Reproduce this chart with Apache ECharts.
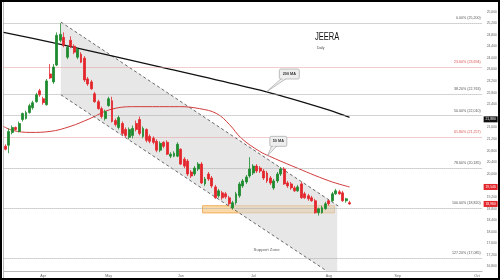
<!DOCTYPE html>
<html><head><meta charset="utf-8">
<script src="https://cdn.jsdelivr.net/npm/echarts@6/dist/echarts.min.js"></script>
<style>html,body{margin:0;padding:0;background:#fff}#c{width:500px;height:280px}</style>
</head><body><div id="c"></div>
<script>
// ---- data ----
const categoryCount = 139;               // trading-day slots on the x axis (incl. empty future)
const monthLabels = ['Apr','May','Jun','Jul','Aug','Sep','Oct'];
const monthIndex  = [11, 30, 51, 72, 94, 114, 137];
// [open, close, low, high]
const candles = [
[20950,20848,20814,21019],[20985,21463,20711,21566],[21429,21600,21361,21668],[21600,21532,21497,21634],
[21463,21737,21429,21805],[21873,22079,21805,22113],[21908,22113,21873,22181],[22113,22352,22079,22420],
[22284,22455,22215,22523],[22489,22728,22455,22797],[22865,22728,22660,22933],[22592,22455,22386,22660],
[22386,23207,22352,23275],[23447,23309,23275,23788],[23173,23686,23104,23788],[23754,24780,23720,24882],
[24609,24814,24540,25200],[24711,24437,24368,24882],[24027,24368,23959,24437],[24609,24403,24334,24745],
[24403,24198,24130,24472],[24027,24300,23959,24334],[24130,23855,23822,24198],[23993,23241,23173,24062],
[23275,23104,23036,23343],[23173,22933,22899,23241],[22762,22489,22455,22831],[22489,22250,22215,22557],
[22250,21976,21908,22318],[21908,22147,21839,22215],[22352,22592,22318,22660],[22523,21805,21771,22660],
[21839,21702,21634,21908],[21600,21942,21532,22010],[21737,21395,21326,21805],[21532,21326,21258,21600],
[21258,21532,21190,21600],[21326,21566,21224,21668],[21737,21532,21463,21839],[21873,21395,21326,21976],
[21292,21566,21224,21634],[21532,21156,21087,21566],[21292,21121,21053,21361],[21224,21087,21019,21292],
[21121,20814,20745,21190],[20814,21053,20745,21121],[21087,20950,20882,21121],[21087,20677,20643,21156],
[20609,20677,20540,20745],[20609,20711,20574,20780],[20609,21019,20574,21087],[20848,20335,20301,20882],
[20506,20267,20198,20574],[20438,19993,19925,20506],[20062,19925,19856,20130],[19993,20198,19925,20267],
[20164,20335,20096,20404],[20335,19685,19651,20404],[19651,19822,19583,19890],[19993,19822,19754,20062],
[19856,19583,19514,19925],[19548,19172,19138,19617],[19241,19412,19172,19480],[19343,19172,19104,19412],
[19309,19206,19138,19378],[19172,18967,18899,19241],[18830,19001,18762,19070],[19001,19309,18933,19378],
[19241,19651,19172,19719],[19583,19754,19514,19822],[19719,19890,19651,19959],[19925,20164,19856,20574],
[20027,20267,19959,20335],[20267,20096,20027,20335],[20198,20096,20027,20267],[20096,19856,19788,20164],
[20027,19754,19685,20096],[19856,19685,19617,19925],[19514,19754,19446,19822],[19754,19993,19685,20062],
[19993,20164,19925,20233],[20164,19651,19617,20233],[19685,19583,19514,19754],[19651,19514,19446,19719],
[19514,19412,19378,19583],[19412,19548,19378,19617],[19651,19172,19138,19719],[19309,19172,19138,19378],
[19241,19138,19070,19309],[19172,19070,19035,19241],[19070,18659,18625,19138],[18659,18796,18557,18830],
[18659,18830,18625,18899],[18796,18967,18762,19035],[19070,18967,18899,19104],[19070,19309,19035,19378],
[19309,19412,19275,19480],[19378,19309,19275,19446],[19343,19070,19035,19412],[19070,19138,19001,19172],
[19001,18960,18933,19070]
];
// moving averages: [slot position, price]
const ma50 = [[0,21634],[2.7,21497],[7.7,21429],[13.5,21463],[19.3,21634],[25.1,21908],[30.9,22215],[37.5,22318],
  [45.3,22318],[51.1,22318],[56.9,22250],[61.9,22079],[65.6,21702],[69.1,21224],[74.3,20780],[77.2,20609],
  [83.9,20267],[94.6,19754],[100.5,19546]];
const ma200 = [[0,24882],[16.6,24472],[48.2,23617],[76.4,22831],[94.6,22200],[100.5,21950]];
// Fibonacci retracement levels
const fibPrice = [25200, 23694, 22763, 22010, 21257, 20185, 18820, 17085];
const fibText  = ['0.00% (25,200)','23.60% (23,694)','38.20% (22,763)','50.00% (22,010)','61.80% (21,257)','78.60% (20,185)','100.00% (18,820)','127.20% (17,085)'];
const fibRed   = [false, true, false, false, true, false, false, false];
// channel
const channelUpper = [[16.64,25240],[97.5,18865]];
const channelLower = [[16.64,22728],[93.9,16643]];
const channelShade = [[16.64,25240],[96.9,18916],[96.9,16643],[93.9,16643],[16.64,22728]];
const supportZone  = [[57.8,18900],[96.1,18650]];
const supportLabelAt = [76.4,17378];
// price tags on the right axis
const tagPrice = [21880, 19546, 18960];
const tagColor = ['#111111', '#e3262b', '#e3262b'];
// callouts
const calloutText = ['200 MA', '50 MA'];
const calloutBox  = [[83.0,23446],[79.8,21121]];
const calloutTip  = [[76.4,22831],[76.6,20609]];
const yMin = 16400, yMax = 26000, yStep = 400;

// ---- chart ----
const categories = Array.from({length: categoryCount}, (_, i) => String(i));
const fmt = v => Number(v).toLocaleString('en-US');
const chart = echarts.init(document.getElementById('c'), null, {renderer: 'canvas'});
const font = 'Liberation Sans, Arial, sans-serif';

chart.setOption({
  animation: false,
  backgroundColor: '#ffffff',
  grid: {left: 3.575, right: 16.875, top: -2.7, bottom: 1.9},
  xAxis: [{
    type: 'category', data: categories, boundaryGap: true, offset: -7.1,
    axisLine: {lineStyle: {color: '#bbbbbb', width: 1}},
    axisTick: {show: false},
    axisLabel: {interval: (i) => monthIndex.includes(i), formatter: (v, i) => monthLabels[monthIndex.indexOf(Number(v))] || '',
      fontSize: 3.6, color: '#666', margin: 2.5, fontFamily: font},
    splitLine: {show: false}
  }, {
    type: 'value', min: 0, max: categoryCount, show: false
  }],
  yAxis: {
    type: 'value', position: 'right', min: yMin, max: yMax, interval: yStep, scale: true,
    axisLine: {show: true, lineStyle: {color: '#bbbbbb'}},
    axisTick: {show: false}, splitLine: {show: false},
    axisLabel: {fontSize: 3.4, color: '#666', margin: 4.5, fontFamily: font, showMinLabel: false, showMaxLabel: false,
      formatter: v => (v === 22000 || v === 19600) ? '' : fmt(v)}
  },
  graphic: [
    {type: 'text', x: 315, y: 37, scaleX: 0.72, silent: true, z: 50,
      style: {text: 'JEERA', fontSize: 10.5, fill: '#111', align: 'left', verticalAlign: 'middle', fontFamily: font}},
    {type: 'text', x: 317, y: 48.5, silent: true, z: 50,
      style: {text: 'Daily', fontSize: 3.4, fill: '#444', align: 'left', verticalAlign: 'middle', fontFamily: font}},
    {type: 'rect', z: 100, silent: true, shape: {x: 1, y: 1, width: 498, height: 278},
      style: {fill: null, stroke: '#000', lineWidth: 2}}
  ],
  series: [
    { // channel shading
      type: 'custom', xAxisIndex: 1, z: 1, silent: true, data: [channelShade[0]],
      renderItem: (params, api) => ({type: 'polygon', shape: {points: channelShade.map(p => api.coord(p))},
        style: {fill: 'rgba(215,215,215,0.6)'}})
    },
    { // support zone band
      type: 'line', xAxisIndex: 1, data: [], z: 2, silent: true,
      markArea: {silent: true, itemStyle: {color: 'rgba(250,205,140,0.75)', borderColor: '#f0a040', borderWidth: 0.8},
        data: [[{coord: supportZone[0]}, {coord: supportZone[1]}]]}
    },
    { // fib lines
      type: 'line', xAxisIndex: 1, data: [], z: 2, silent: true,
      markLine: {silent: true, symbol: 'none', animation: false,
        data: fibPrice.map((p, i) => ({yAxis: p,
          lineStyle: {type: 'dotted', width: 1, color: fibRed[i] ? '#e69a9a' : '#a8a8a8'},
          label: {show: true, position: 'insideEndTop', distance: [1.5, 3], formatter: fibText[i], fontSize: 3.6,
            color: fibRed[i] ? '#d9534f' : '#555', fontFamily: font}}))}
    },
    { type: 'line', xAxisIndex: 1, data: channelUpper, symbol: 'none', z: 3, silent: true,
      lineStyle: {type: [3, 2.5], width: 0.8, color: '#444'} },
    { type: 'line', xAxisIndex: 1, data: channelLower, symbol: 'none', z: 3, silent: true,
      lineStyle: {type: [3, 2.5], width: 0.8, color: '#444'} },
    { type: 'line', xAxisIndex: 1, data: ma50, symbol: 'none', smooth: 0.4, z: 4, silent: true,
      lineStyle: {width: 1, color: '#d23c3c'} },
    { type: 'line', xAxisIndex: 1, data: ma200, symbol: 'none', smooth: 0.15, z: 4, silent: true,
      lineStyle: {width: 1.3, color: '#111'} },
    { type: 'candlestick', xAxisIndex: 0, data: candles, barWidth: 2.4, z: 5,
      itemStyle: {color: '#1e8a2e', color0: '#e3262b', borderColor: '#1e8a2e', borderColor0: '#e3262b', borderWidth: 0.8} },
    { type: 'scatter', xAxisIndex: 1, data: [supportLabelAt], symbolSize: 0, z: 6, silent: true,
      label: {show: true, position: 'inside', formatter: 'Support Zone', fontSize: 4.3, color: '#333', fontFamily: font} },
    { // callouts
      type: 'custom', xAxisIndex: 1, z: 7, silent: true, data: calloutBox,
      renderItem: (params, api) => {
        const i = params.dataIndex;
        const c = api.coord(calloutBox[i]);
        const t = api.coord(calloutTip[i]);
        const w = i === 0 ? 20 : 17, h = 10;
        const bx = c[0] - w / 2, by = c[1] - h / 2;
        return {type: 'group', children: [
          {type: 'polygon', shape: {points: [[bx + 2, by + h - 0.5], [bx + 7, by + h - 0.5], t]},
            style: {fill: '#eeeeee', stroke: '#999', lineWidth: 0.6}},
          {type: 'rect', shape: {x: bx, y: by, width: w, height: h, r: 1.5},
            style: {fill: '#eeeeee', stroke: '#999', lineWidth: 0.6}},
          {type: 'polygon', shape: {points: [[bx + 2.5, by + h - 1], [bx + 6.5, by + h - 1], [bx + 4, by + h + 1]]},
            style: {fill: '#eeeeee'}},
          {type: 'text', style: {x: c[0], y: c[1], text: calloutText[i], align: 'center', verticalAlign: 'middle',
            fontSize: 3.8, fontWeight: 'bold', fill: '#333', fontFamily: font}}
        ]};
      }
    },
    { // price tags on axis
      type: 'custom', xAxisIndex: 1, z: 8, silent: true, data: tagPrice.map(p => [0, p]),
      renderItem: (params, api) => {
        const i = params.dataIndex;
        const y = api.coord([0, tagPrice[i]])[1];
        const cs = params.coordSys;
        const x = cs.x + cs.width + 1.5;
        return {type: 'group', children: [
          {type: 'rect', shape: {x: x, y: y - 3, width: 14, height: 6}, style: {fill: tagColor[i]}},
          {type: 'text', style: {x: x + 7, y: y, text: fmt(tagPrice[i]), align: 'center', verticalAlign: 'middle',
            fontSize: 3.4, fill: '#fff', fontFamily: font}}
        ]};
      }
    }
  ]
});
</script></body></html>
